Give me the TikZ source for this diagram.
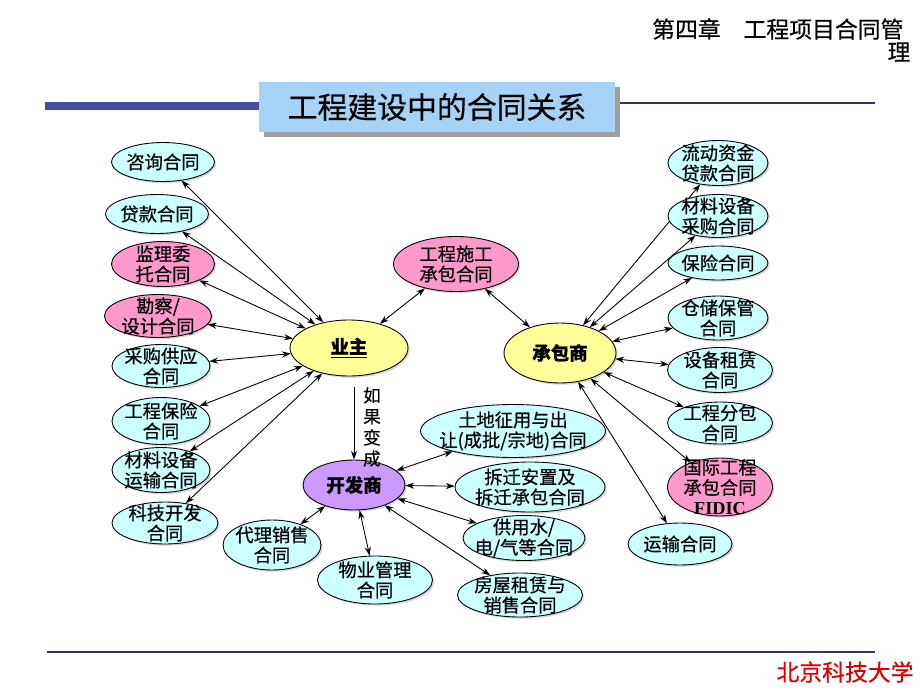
\documentclass[tikz,border=0pt]{standalone}
\usepackage{xcolor}
\usepackage{fontspec}
\setmainfont{Noto Sans CJK SC}[FakeBold=0.5]
\newfontfamily\fidicfont{Liberation Serif}
\usepackage{tikz}
\usetikzlibrary{shapes.geometric,arrows.meta,shadows}

\definecolor{cyanfill}{HTML}{CCFFFF}
\definecolor{pinkfill}{HTML}{FF99CC}
\definecolor{yellowfill}{HTML}{FFFF99}
\definecolor{purplefill}{HTML}{CC99FF}
\definecolor{titleblue}{HTML}{A6D2F5}
\definecolor{barblue}{HTML}{4A4AA0}
\definecolor{lineblue}{HTML}{333366}
\definecolor{univred}{HTML}{E00000}

\tikzset{
	contract/.style={ellipse, draw=black, line width=0.5pt, align=center,
		inner xsep=-12pt, inner ysep=-12pt, font=\fontsize{10.4}{11.5}\selectfont,
		drop shadow={opacity=0.3, shadow xshift=1pt, shadow yshift=-1pt}},
	party/.style={contract, font=\fontsize{10.5}{12}\selectfont\bfseries},
	rel/.style={{Stealth[length=5pt,width=3.5pt]}-{Stealth[length=5pt,width=3.5pt]}, line width=0.5pt},
	turn/.style={-{Stealth[length=5pt,width=3.5pt]}, line width=0.5pt},
	titlebox/.style={fill=titleblue, minimum width=7.14cm, minimum height=1.0cm,
		font=\fontsize{17}{20}\selectfont,
		drop shadow={fill=gray!75, opacity=1, shadow xshift=0.1cm, shadow yshift=-0.1cm}},
}

\begin{document}
\begin{tikzpicture}[x=0.02cm, y=-0.02cm]
	\useasboundingbox (0,0) rectangle (920,690);
	% header
	\node[anchor=west, font=\fontsize{13}{15}\selectfont] (hd) at (646,29) {第四章　工程项目合同管};
	\node[font=\fontsize{13}{15}\selectfont] (hdb) at (899,52) {理};
	\draw[barblue, line width=5pt] (45,106) -- (260,106);
	\draw[lineblue, line width=1.1pt] (610,103) -- (875,103);
	\node[titlebox] (title) at (437,107) {工程建设中的合同关系};
	% parties
	\node[party, fill=yellowfill, minimum width=2.36cm, minimum height=1.12cm] (yz) at (349,348) {\underline{业主}};
	\node[party, fill=yellowfill, minimum width=2.24cm, minimum height=1.2cm] (cbs) at (560,353) {承包商};
	\node[party, fill=purplefill, minimum width=2.04cm, minimum height=1.0cm] (kfs) at (354,485) {开发商};
	\node[contract, fill=pinkfill, minimum width=2.5cm, minimum height=1.1cm] (sg) at (456,264) {工程施工\\承包合同};
	% owner side
	\foreach \n/\x/\y/\w/\h/\col/\t in {zx/163/162/2.06/0.78/cyanfill/咨询合同,
		dk/157/214/2.06/0.78/cyanfill/贷款合同,
		jl/163/264/2.06/0.9/pinkfill/{监理委\\托合同},
		kc/158/316/2.14/0.86/pinkfill/{勘察/\\设计合同},
		cg/161/366/1.96/0.86/cyanfill/{采购供应\\合同},
		bx/161/421/1.96/0.94/cyanfill/{工程保险\\合同},
		cl/161/470/1.96/0.9/cyanfill/{材料设备\\运输合同},
		kj/165/523/2.12/0.84/cyanfill/{科技开发\\合同}}
	{
		\node[contract, fill=\col, minimum width=\w cm, minimum height=\h cm] (\n) at (\x,\y) {\t};
		\draw[rel] (\n) -- (yz);
	}
	% contractor side
	\foreach \n/\x/\y/\w/\h/\col/\t in {ld/718/163/2.0/0.9/cyanfill/{流动资金\\贷款合同},
		clcg/718/216/2.0/0.86/cyanfill/{材料设备\\采购合同},
		bxr/718/263/2.0/0.68/cyanfill/保险合同,
		cc/718/318/2.0/0.88/cyanfill/{仓储保管\\合同},
		zl/720/370/2.1/0.9/cyanfill/{设备租赁\\合同},
		fb/720/423/2.1/0.84/cyanfill/{工程分包\\合同},
		gj/720/487/2.1/1.16/pinkfill/{国际工程\\承包合同\\{\fidicfont\bfseries FIDIC}},
		ys/680/544/2.08/0.84/cyanfill/运输合同}
	{
		\node[contract, fill=\col, minimum width=\w cm, minimum height=\h cm] (\n) at (\x,\y) {\t};
		\draw[rel] (cbs) -- (\n);
	}
	% developer side
	\foreach \n/\x/\y/\w/\h/\t in {td/513/431/3.7/1.06/{土地征用与出\\让(成批/宗地)合同},
		cq/530/487/3.0/1.0/{拆迁安置及\\拆迁承包合同},
		gy/524/538/2.44/0.9/{供用水/\\电/气等合同},
		fw/520/595/2.5/0.88/{房屋租赁与\\销售合同},
		wy/375/580/2.3/0.96/{物业管理\\合同},
		dl/272/545/1.96/1.0/{代理销售\\合同}}
	{
		\node[contract, fill=cyanfill, minimum width=\w cm, minimum height=\h cm] (\n) at (\x,\y) {\t};
		\draw[rel] (kfs) -- (\n);
	}
	\draw[rel] (yz) -- (sg);
	\draw[rel] (sg) -- (cbs);
	\draw[turn, shorten <=6pt] (yz.south -| kfs.north) -- (kfs.north);
	\node[align=center, font=\fontsize{10}{12}\selectfont] (rb) at (372,427) {如\\果\\变\\成};
	% footer
	\draw[lineblue, line width=1.1pt] (47,652) -- (875,652);
	\node[text=univred, font=\fontsize{13}{15}\selectfont] (univ) at (845,672) {北京科技大学};
\end{tikzpicture}
\end{document}
